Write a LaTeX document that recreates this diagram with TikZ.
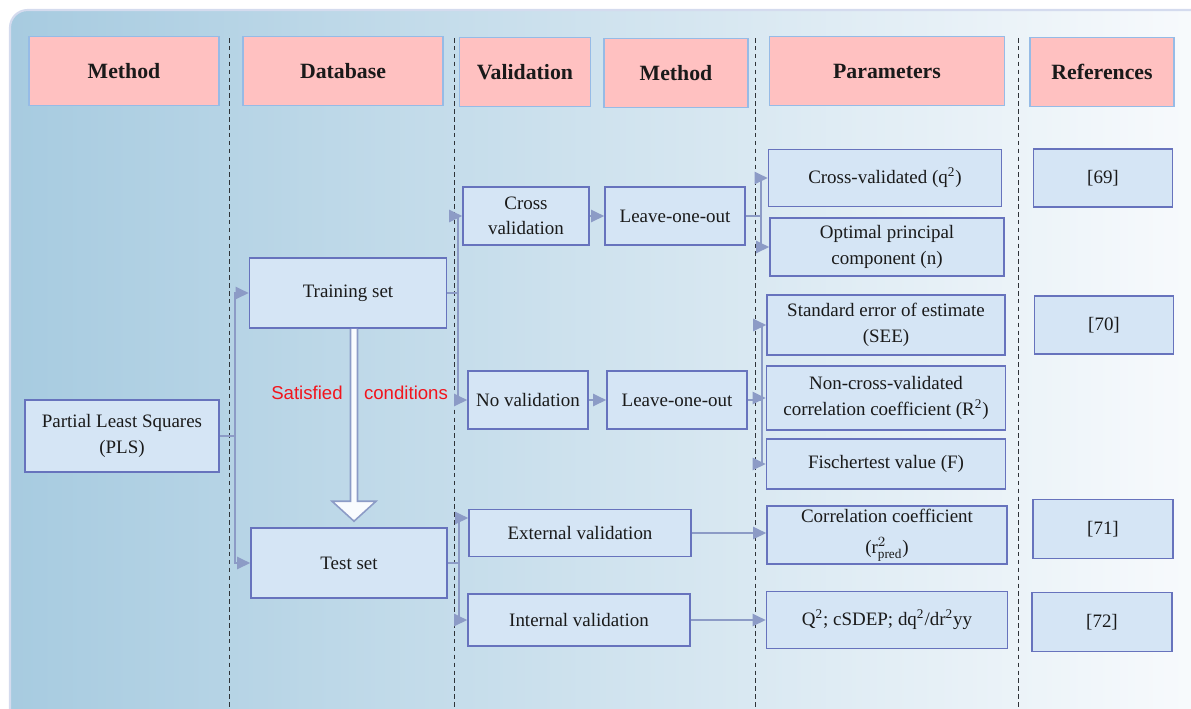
\documentclass[tikz,border=0pt]{standalone}
\usepackage{fontspec}
\setmainfont{Liberation Serif}
\newfontfamily\labelfont{Liberation Sans}
\usetikzlibrary{arrows.meta,calc}
\definecolor{ink}{HTML}{1A1A1A}
\definecolor{panelL}{HTML}{A7CBE0}
\definecolor{panelM}{HTML}{CFE3EE}
\definecolor{panelR}{HTML}{F9FBFD}
\definecolor{panelrim}{HTML}{D4DBEE}
\definecolor{headfill}{HTML}{FFC1C1}
\definecolor{headrim}{HTML}{96BBE6}
\definecolor{boxfill}{HTML}{D5E5F5}
\definecolor{boxrim}{HTML}{6773BD}
\definecolor{wirec}{HTML}{8C9BC6}
\definecolor{sepc}{HTML}{2E3338}
\definecolor{warn}{HTML}{F2141C}
\newcommand{\PX}{0.02cm}

\begin{document}
\begin{tikzpicture}[x=\PX,y=-\PX,>={Triangle[length=2.6mm,width=2.4mm]},
  hdr/.style={draw=headrim,fill=headfill,line width=1.1pt,minimum height=1.38cm,
    font=\fontsize{12.4}{14}\selectfont\bfseries,text=ink},
  cell/.style={draw=boxrim,fill=boxfill,line width=0.9pt,align=center,inner sep=1pt,
    font=\fontsize{10.8}{14.5}\selectfont,text=ink},
  wire/.style={draw=wirec,line width=1.2pt},
  sep/.style={sepc,line width=1.1pt,dash pattern=on 2.6pt off 1.9pt},
  hollow/.style={draw=wirec,fill=white!85!boxfill,line width=0.9pt,line join=miter},
  lbl/.style={font=\labelfont\fontsize{10.6}{12}\selectfont,text=warn,inner sep=0pt}]

\clip (0,0) rectangle (1191,708);

% ---------------- panel and column rules ------------------------------------
\shade[left color=panelL,middle color=panelM,right color=panelR,rounded corners=10pt]
  (10,10) rectangle (1215,730);
\draw[panelrim,line width=1.2pt,rounded corners=10pt] (10,10) rectangle (1215,730);
\foreach \x in {229.5,454.5,755.5,1018.5}
  \draw[sep] (\x,38) -- (\x,708);

% ---------------- column heads ----------------------------------------------
\node[hdr,minimum width=3.8cm]  (hMethod)  at (124,71)  {Method};
\node[hdr,minimum width=4.0cm]  (hData)    at (343,71)  {Database};
\node[hdr,minimum width=2.62cm] (hValid)   at (525,72)  {Validation};
\node[hdr,minimum width=2.88cm] (hMethodB) at (676,73)  {Method};
\node[hdr,minimum width=4.7cm]  (hParam)   at (887,71)  {Parameters};
\node[hdr,minimum width=2.88cm] (hRef)     at (1102,72) {References};

% ---------------- boxes -----------------------------------------------------
\node[cell,minimum width=3.88cm,minimum height=1.44cm] (pls) at (122,436) {Partial Least Squares\\(PLS)};
\node[cell,minimum width=3.94cm,minimum height=1.4cm] (train) at (348,293) {Training set};
\node[cell,minimum width=3.92cm,minimum height=1.4cm] (test) at (349,563) {Test set};

\node[cell,minimum width=2.52cm,minimum height=1.16cm] (cross) at (526,216) {Cross\\validation};
\node[cell,minimum width=2.4cm,minimum height=1.16cm] (novalid) at (528,400) {No validation};
\node[cell,minimum width=4.44cm,minimum height=0.94cm] (ext) at (580,533) {External validation};
\node[cell,minimum width=4.44cm,minimum height=1.04cm] (int) at (579,620) {Internal validation};

\node[cell,minimum width=2.8cm,minimum height=1.16cm] (looA) at (675,216) {Leave-one-out};
\node[cell,minimum width=2.8cm,minimum height=1.16cm] (looB) at (677,400) {Leave-one-out};

\node[cell,minimum width=4.66cm,minimum height=1.14cm] (qsq) at (885,178) {Cross-validated (q\textsuperscript{2})};
\node[cell,minimum width=4.68cm,minimum height=1.16cm] (optn) at (887,247) {Optimal principal\\component (n)};
\node[cell,minimum width=4.76cm,minimum height=1.2cm] (see) at (886,325) {Standard error of estimate\\(SEE)};
\node[cell,minimum width=4.78cm,minimum height=1.28cm] (ncv) at (886,398) {Non-cross-validated\\correlation coefficient (R\textsuperscript{2})};
\node[cell,minimum width=4.78cm,minimum height=1.0cm] (fisch) at (886,464) {Fischertest value (F)};
\node[cell,minimum width=4.8cm,minimum height=1.16cm] (corr) at (887,535) {Correlation coefficient\\[3pt](\(\mathrm{r}^{2}_{\mathrm{pred}}\))};
\node[cell,minimum width=4.82cm,minimum height=1.14cm] (qcs) at (887,620) {Q\textsuperscript{2}; cSDEP; dq\textsuperscript{2}/dr\textsuperscript{2}yy};

\node[cell,minimum width=2.78cm,minimum height=1.16cm] (r69) at (1103,178) {[69]};
\node[cell,minimum width=2.78cm,minimum height=1.16cm] (r70) at (1104,325) {[70]};
\node[cell,minimum width=2.8cm,minimum height=1.18cm] (r71) at (1103,529) {[71]};
\node[cell,minimum width=2.8cm,minimum height=1.18cm] (r72) at (1102,622) {[72]};

% ---------------- training set to test set ----------------------------------
\coordinate (top) at ($(train.south)+(6,0)$);
\coordinate (tip) at ($(test.north)+(5,-6)$);
\draw[hollow] ($(top)+(-3.5,0)$) -- ($(tip)+(-3.5,-20)$) -- ($(tip)+(-22,-20)$) -- (tip)
  -- ($(tip)+(22,-20)$) -- ($(tip)+(3.5,-20)$) -- ($(top)+(3.5,0)$);
\node[lbl] (satA) at (307,393) {Satisfied};
\node[lbl] (satB) at (406,393) {conditions};

% ---------------- connectors ------------------------------------------------
\draw[wire,->] (pls.east) -- ++(15,0) |- (train.west);
\draw[wire,->] (pls.east) -- ++(15,0) |- (test.west);
\draw[wire,->] (train.east) -- ++(11,0) |- (cross.west);
\draw[wire,->] (train.east) -- ++(11,0) |- (novalid.west);
\draw[wire,->] (test.east) -- ++(11,0) |- ($(ext.west)+(0,-15)$);
\draw[wire,->] (test.east) -- ++(11,0) |- (int.west);
\draw[wire,->] (cross) -- (looA);
\draw[wire,->] (novalid) -- (looB);
\draw[wire,->] (looA.east) -- ++(15,0) |- (qsq.west);
\draw[wire,->] (looA.east) -- ++(15,0) |- (optn.west);
\draw[wire,->] (looB.east) -- ++(14,0) |- (see.west);
\draw[wire,->] (looB.east) -- ++(14,0) |- (ncv.west);
\draw[wire,->] (looB.east) -- ++(14,0) |- (fisch.west);
\draw[wire,->] (ext.east) -- (ext.east -| corr.west);
\draw[wire,->] (int.east) -- (int.east -| qcs.west);

\end{tikzpicture}
\end{document}
